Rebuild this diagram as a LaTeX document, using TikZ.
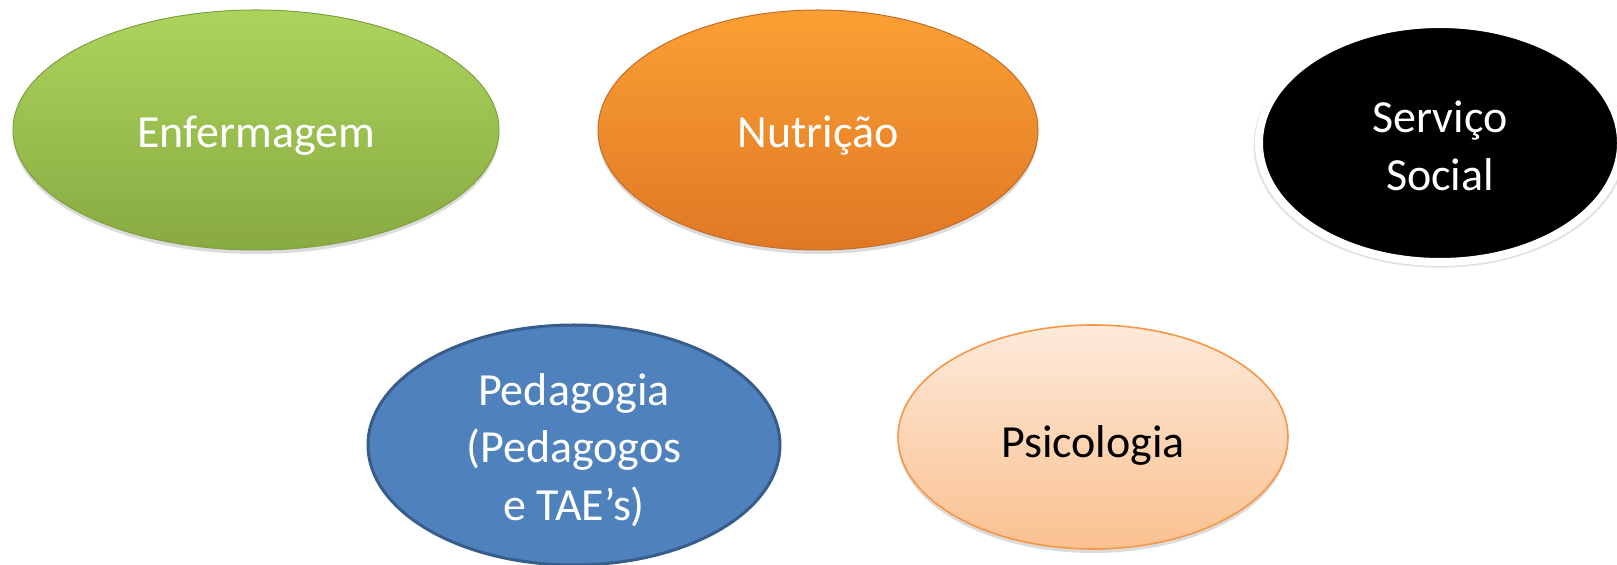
\documentclass[tikz,border=0pt]{standalone}
\usepackage{fontspec}
\setmainfont{Carlito}
\usetikzlibrary{shapes.geometric,shadows}
\definecolor{grTop}{RGB}{172,212,92}
\definecolor{grBot}{RGB}{136,170,66}
\definecolor{grLine}{RGB}{128,160,64}
\definecolor{orTop}{RGB}{251,160,52}
\definecolor{orBot}{RGB}{224,120,36}
\definecolor{orLine}{RGB}{196,108,40}
\definecolor{blFill}{RGB}{79,129,189}
\definecolor{blLine}{RGB}{56,93,138}
\definecolor{psTop}{RGB}{253,234,218}
\definecolor{psBot}{RGB}{251,193,144}
\definecolor{psLine}{RGB}{247,150,70}
\begin{document}
\begin{tikzpicture}[x=0.5pt,y=-0.5pt,
  oval/.style={ellipse, inner sep=0pt},
  lbl/.style={inner sep=0pt, align=center,
    font=\fontsize{23}{28.7}\selectfont, text=white},
  soft/.style={drop shadow={shadow xshift=0pt, shadow yshift=-2pt,
    opacity=0.2, fill=black!70}},
]
\useasboundingbox (0,0) rectangle (1617,565);
\node[oval, soft, minimum width=243pt, minimum height=120pt,
  top color=grTop, bottom color=grBot, draw=grLine, line width=0.5pt]
  (enf) at (256,130) {};
\node[lbl] (enf-t) at ([yshift=-3pt]enf.center) {Enfermagem};
\node[oval, soft, minimum width=220pt, minimum height=120pt,
  top color=orTop, bottom color=orBot, draw=orLine, line width=0.5pt]
  (nut) at (818,130) {};
\node[lbl] (nut-t) at ([yshift=-3pt]nut.center) {Nutrição};
\node[oval, minimum width=181pt, minimum height=119pt,
  fill=black, draw=white, line width=4pt,
  drop shadow={shadow scale=1.03, shadow xshift=0pt, shadow yshift=-1pt,
    opacity=0.2, fill=black!60}]
  (ser) at (1440,143) {};
\node[lbl] (ser-t) at ([yshift=-1.5pt]ser.center) {Serviço\\Social};
\node[oval, minimum width=206pt, minimum height=120pt,
  fill=blFill, draw=blLine, line width=1.5pt]
  (ped) at (574,445) {};
\node[lbl] (ped-t) at ([yshift=-2.5pt]ped.center) {Pedagogia\\(Pedagogos\\e TAE’s)};
\node[oval, soft, minimum width=195pt, minimum height=112pt,
  top color=psTop, bottom color=psBot, draw=psLine, line width=0.8pt]
  (psi) at (1093,437) {};
\node[lbl, text=black] (psi-t) at ([yshift=-4pt]psi.center) {Psicologia};
\end{tikzpicture}
\end{document}
